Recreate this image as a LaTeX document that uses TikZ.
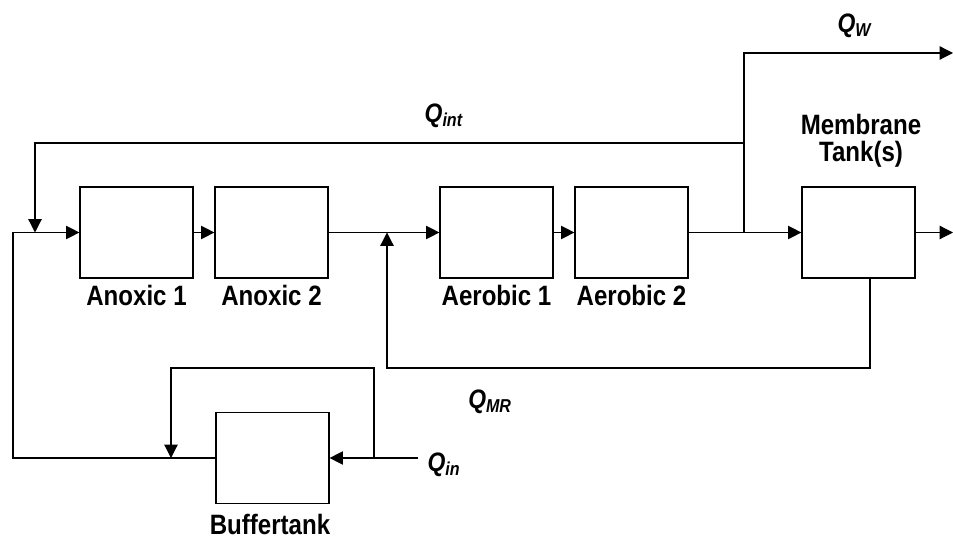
\documentclass[tikz,border=0pt]{standalone}
\usepackage{fontspec}
\setmainfont{Liberation Sans}[FakeStretch=0.86]
\usetikzlibrary{arrows.meta}

\tikzset{
  tank/.style={draw, line width=0.9pt, minimum width=84.75pt, minimum height=68.25pt, inner sep=0pt},
  pipe/.style={line width=0.9pt},
  flow/.style={pipe, -{Triangle[length=10pt,width=10pt]}},
  tanklabel/.style={font=\fontsize{21}{20}\selectfont\bfseries, inner sep=0pt, align=center},
  flowlabel/.style={font=\fontsize{20}{20}\selectfont, inner sep=0pt}
}
\newcommand{\qflow}[1]{\textbf{\textit{Q}}\textsubscript{\textbf{\textit{#1}}}}

\begin{document}
\begin{tikzpicture}[x=0.75pt,y=-0.75pt]
\useasboundingbox (0,0) rectangle (953,541);
% tanks
\node[tank] (anox1) at (136.5,232.5) {};
\node[tank] (anox2) at (271.5,232.5) {};
\node[tank] (aer1) at (496.5,232.5) {};
\node[tank] (aer2) at (631.5,232.5) {};
\node[tank] (memb) at (858.5,232.5) {};
\node[tank] (buff) at (272.5,458) {};
% tank names
\node[tanklabel] (lanox1) at (136.5,295) {Anoxic 1};
\node[tanklabel] (lanox2) at (271.5,295) {Anoxic 2};
\node[tanklabel] (laer1) at (496.5,295) {Aerobic 1};
\node[tanklabel] (laer2) at (631.5,295) {Aerobic 2};
\node[tanklabel] (lmemb) at (861,141) {Membrane\\Tank(s)};
\node[tanklabel] (lbuff) at (270,524) {Buffertank};
% junctions and open ends
\coordinate (feedcorner) at (13,232.5);
\coordinate (mixA) at (35,232.5);
\coordinate (inttop) at (35,143);
\coordinate (split) at (744,232.5);
\coordinate (wasteout) at (953,53);
\coordinate (permout) at (953,232.5);
\coordinate (mixB) at (387,232.5);
\coordinate (mrdrop) at (870,368);
\coordinate (mrturn) at (387,368);
\coordinate (qin) at (418,458);
\coordinate (bysplit) at (374,458);
\coordinate (bytop) at (171,368);
\coordinate (bymix) at (171,458);
% main line
\draw[flow] (buff.west) -| (feedcorner) -- (anox1.west);
\draw[flow] (anox1.east) -- (anox2.west);
\draw[flow] (anox2.east) -- (aer1.west);
\draw[flow] (aer1.east) -- (aer2.west);
\draw[flow] (aer2.east) -- (memb.west);
\draw[flow] (memb.east) -- (permout);
% recycles
\draw[flow] (split) |- (inttop) -- (mixA);
\draw[flow] (split) |- (wasteout);
\draw[flow] (mrdrop |- memb.south) -- (mrdrop) -- (mrturn) -- (mixB);
% influent and bypass
\draw[flow] (qin) -- (buff.east);
\draw[flow] (bysplit) |- (bytop) -- (bymix);
% flow names
\node[flowlabel] (lqw) at (855,26) {\qflow{W}};
\node[flowlabel] (lqint) at (444,116) {\qflow{int}};
\node[flowlabel] (lqmr) at (490,402) {\qflow{MR}};
\node[flowlabel] (lqin) at (444,465) {\qflow{in}};
\end{tikzpicture}
\end{document}
